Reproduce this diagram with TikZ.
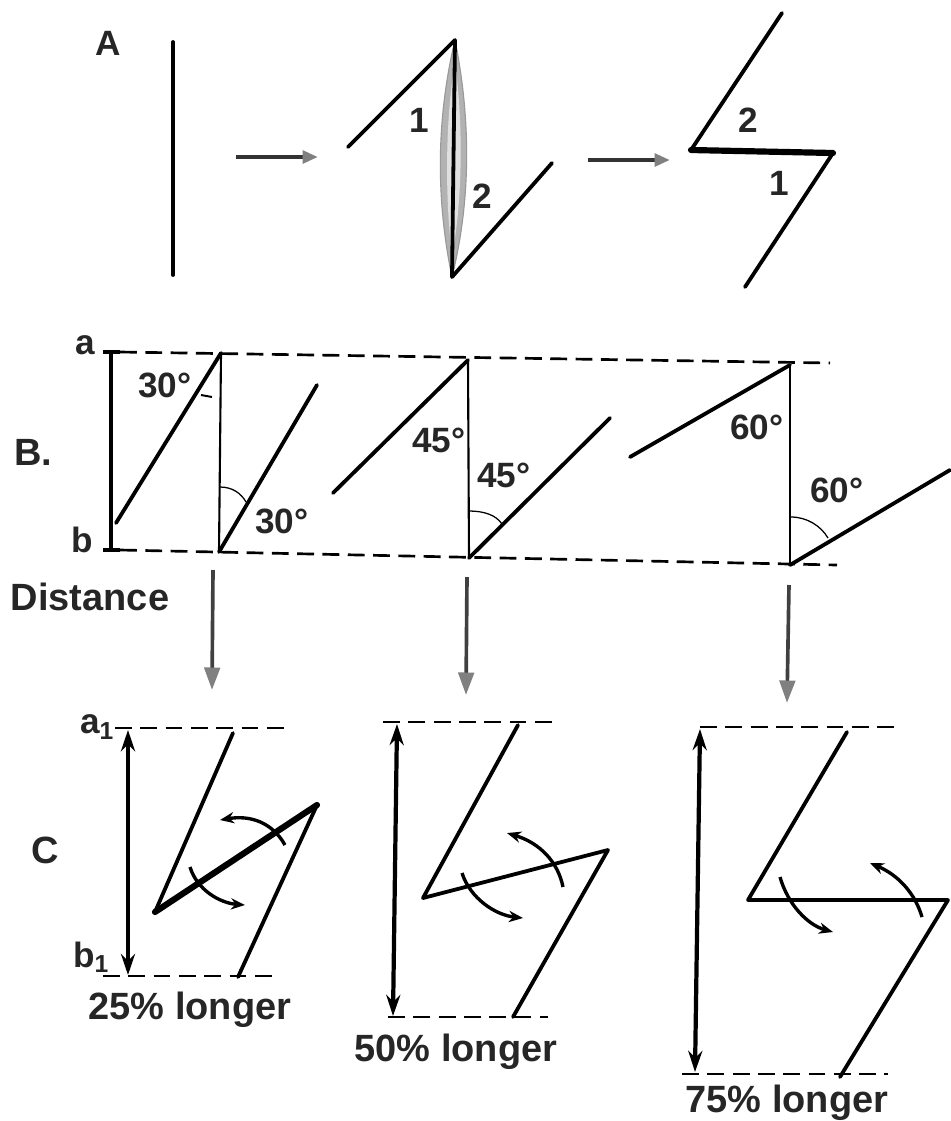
\documentclass[tikz,border=0pt]{standalone}
\usepackage{fontspec}
\newfontfamily\rotfont{Liberation Sans}
\usepackage{tikz}
\usetikzlibrary{arrows.meta}
\tikzset{
    traco/.style={line width=2.7pt, line cap=round, line join=round},
    tracoFino/.style={line width=1.5pt, line cap=round},
    tracoGrosso/.style={line width=4.4pt, line cap=round},
    guia/.style={line width=1.9pt, dash pattern=on 12pt off 6pt},
    seta/.style={line width=2.8pt, draw=black!80,
        -{Triangle[length=11pt,width=9pt,color=black!50]}},
    setaBaixo/.style={line width=2.6pt, draw=black!75,
        -{Triangle[length=16pt,width=11pt,color=black!50]}},
    setaDupla/.style={line width=3pt,
        {Stealth[length=15pt,width=10pt]}-{Stealth[length=15pt,width=10pt]}},
    giro/.style={line width=2.4pt, -{Stealth[length=10pt,width=8pt]}},
    arco/.style={line width=0.9pt},
    rotulo/.style={font=\rotfont\bfseries\fontsize{25}{27}\selectfont,
        text=black!85, inner sep=0pt},
    rotuloG/.style={rotulo, font=\rotfont\bfseries\fontsize{27}{30}\selectfont}
}

\begin{document}
\begin{tikzpicture}[x=0.025cm, y=-0.025cm]
    \useasboundingbox (0,0) rectangle (950,1121);

    % --- A ---
    \node[rotulo] (lA) at (108,43) {A};
    \draw[traco] (173,42) -- (173,275);
    \draw[seta] (236,157) -- (318,157);

    \fill[gray!60, draw=gray!80, line width=0.8pt]
        (455,40) .. controls (436,120) and (436,200) .. (452,277)
        .. controls (471,200) and (471,120) .. (455,40);
    \fill[gray!25]
        (455,62) .. controls (445,120) and (445,200) .. (452,255)
        .. controls (463,200) and (463,120) .. (455,62);
    \draw[traco] (348,147) -- (455,40) -- (452,277) -- (552,163);
    \node[rotulo] (n1) at (419,120) {1};
    \node[rotulo] (n2) at (482,196) {2};

    \draw[seta] (588,160) -- (670,160);

    \draw[traco] (782,13) -- (691,150);
    \draw[tracoGrosso] (691,150) -- (833,153);
    \draw[traco] (833,153) -- (745,287);
    \node[rotulo] (m2) at (748,120) {2};
    \node[rotulo] (m1) at (779,183) {1};

    % --- B ---
    \node[rotuloG] (lB) at (33,452) {B.};
    \node[rotulo] (la) at (85,345) {a};
    \node[rotulo] (lb) at (82,540) {b};
    \node[rotuloG] (dist) at (90,597) {Distance};

    \draw[guia] (120,352) -- (830,363);
    \draw[guia] (120,550) -- (837,565);
    \draw[line width=3pt] (111,352) -- (111,550);
    \draw[line width=2.6pt] (103,352) -- (120,352);
    \draw[line width=2.6pt] (103,550) -- (120,550);

    % 30
    \draw[traco] (116,523) -- (221,353);
    \draw[tracoFino] (221,353) -- (219,552);
    \draw[traco] (219,552) -- (317,385);
    \draw[arco] (220,487) .. controls (232,487) and (241,493) .. (246,502);
    \draw[line width=1.4pt] (201,395) -- (212,397);
    \node[rotulo] (g30a) at (165,385) {30°};
    \node[rotulo] (g30b) at (282,521) {30°};

    % 45
    \draw[traco] (333,493) -- (468,360);
    \draw[tracoFino] (468,360) -- (469,558);
    \draw[traco] (469,558) -- (610,418);
    \draw[arco] (469,511) .. controls (484,511) and (496,515) .. (502,524);
    \node[rotulo] (g45a) at (439,440) {45°};
    \node[rotulo] (g45b) at (504,475) {45°};

    % 60
    \draw[traco] (630,457) -- (790,365);
    \draw[tracoFino] (790,365) -- (790,565);
    \draw[traco] (790,565) -- (950,470);
    \draw[arco] (791,517) .. controls (807,517) and (821,526) .. (828,538);
    \node[rotulo] (g60a) at (757,427) {60°};
    \node[rotulo] (g60b) at (837,490) {60°};

    % B -> C
    \draw[setaBaixo] (213,570) -- (212,690);
    \draw[setaBaixo] (467,577) -- (466,695);
    \draw[setaBaixo] (789,585) -- (787,703);

    % --- C ---
    \node[rotuloG] (lC) at (45,850) {C};

    % 25%
    \draw[guia] (115,728) -- (287,728);
    \draw[guia] (103,976) -- (280,976);
    \draw[setaDupla] (128,730) -- (128,975);
    \node[rotulo] (la1) at (97,727) {a\textsubscript{1}};
    \node[rotulo] (lb1) at (91,957) {b\textsubscript{1}};
    \draw[traco] (233,733) -- (155,912);
    \draw[tracoGrosso] (155,912) -- (317,805);
    \draw[traco] (317,805) -- (238,977);
    \draw[giro] (285,845) .. controls (272,822) and (250,815) .. (220,820);
    \draw[giro] (190,867) .. controls (197,890) and (220,903) .. (245,905);
    \node[rotuloG] (p25) at (190,1010) {25\% longer};

    % 50%
    \draw[guia] (383,722) -- (557,722);
    \draw[guia] (388,1017) -- (548,1017);
    \draw[setaDupla] (397,724) -- (393,1016);
    \draw[traco] (518,725) -- (423,898) -- (608,850) -- (513,1017);
    \draw[giro] (563,887) .. controls (558,862) and (540,843) .. (507,833);
    \draw[giro] (462,873) .. controls (470,898) and (495,915) .. (523,918);
    \node[rotuloG] (p50) at (456,1052) {50\% longer};

    % 75%
    \draw[guia] (700,727) -- (897,727);
    \draw[guia] (682,1074) -- (888,1074);
    \draw[setaDupla] (700,729) -- (695,1072);
    \draw[traco] (847,732) -- (748,900) -- (948,900) -- (840,1077);
    \draw[giro] (922,917) .. controls (915,893) and (898,875) .. (870,863);
    \draw[giro] (780,877) .. controls (788,905) and (808,925) .. (833,932);
    \node[rotuloG] (p75) at (787,1103) {75\% longer};
\end{tikzpicture}
\end{document}
